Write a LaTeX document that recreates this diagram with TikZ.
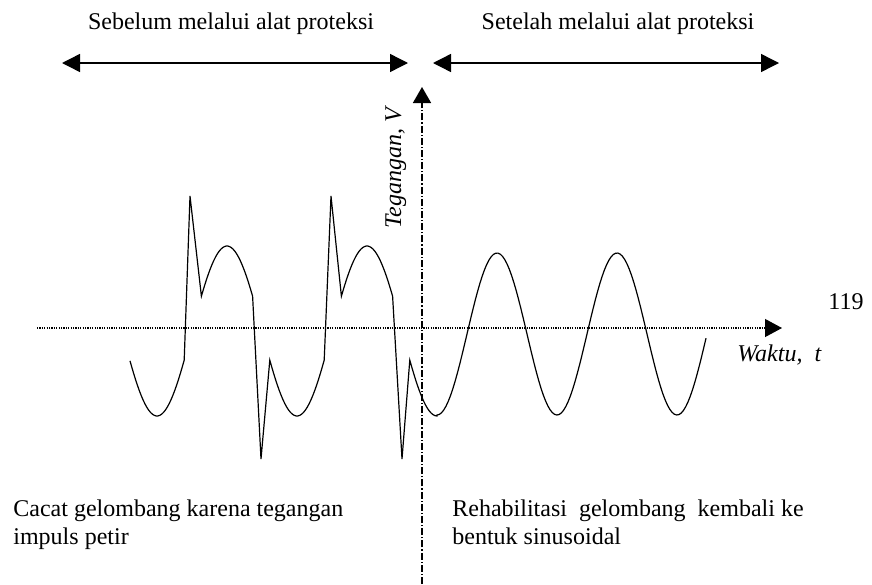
\documentclass[tikz,border=0pt]{standalone}
\usepackage{fontspec}
\setmainfont{Liberation Serif}
\usepackage{tikz}
\usetikzlibrary{arrows.meta,positioning}
\tikzset{
  captiontext/.style={font=\fontsize{12}{13.8}\selectfont,inner sep=0pt},
  axistext/.style={font=\fontsize{12}{13.8}\selectfont\itshape,inner sep=0pt},
  notetext/.style={captiontext,align=left,anchor=base west},
  spanarrow/.style={{Triangle[length=9pt,width=9pt]}-{Triangle[length=9pt,width=9pt]},line width=0.7pt},
  voltaxis/.style={-{Triangle[length=8pt,width=9pt]},line width=0.8pt,dash pattern=on 3.5pt off 1pt on 0.6pt off 1pt},
  timeaxis/.style={-{Triangle[length=8.5pt,width=9pt]},line width=0.6pt,dash pattern=on 0.6pt off 0.6pt},
  waveline/.style={line width=0.6pt,line join=miter}
}

\begin{document}
\begin{tikzpicture}[x=0.5pt,y=-0.5pt]
  \useasboundingbox (0,0) rectangle (872,584);
  % before / after spans
  \coordinate (beforeL) at (62,63);
  \coordinate (beforeR) at (408,63);
  \coordinate (afterL) at (433,63);
  \coordinate (afterR) at (779,63);
  \draw[spanarrow] (beforeL) -- (beforeR);
  \draw[spanarrow] (afterL) -- (afterR);
  \node[captiontext,anchor=base] (before) at (231,29) {Sebelum melalui alat proteksi};
  \node[captiontext,anchor=base] (after) at (618,29) {Setelah melalui alat proteksi};
  % axes
  \coordinate (vbottom) at (422,584);
  \coordinate (vtop) at (422,87);
  \coordinate (hleft) at (37,328);
  \coordinate (hright) at (782,328);
  \draw[timeaxis] (hleft) -- (hright);
  \draw[voltaxis] (vbottom) -- (vtop);
  \node[axistext,rotate=90,anchor=base] (volt) at (401,168) {Tegangan, V};
  \node[axistext,anchor=base west] (time) at (737,361) {Waktu, \ t};
  \node[captiontext,anchor=base west] (page) at (828,309) {119};
  % distorted wave, then clean sine
  \draw[waveline]
    plot[domain=130:184.2,samples=30] (\x,{331+85*cos(2.5714*(\x-157))})
    -- (190,196)
    -- plot[domain=201.4:252.6,samples=30] (\x,{331+85*cos(2.5714*(\x-157))})
    -- (261,459)
    -- plot[domain=269.8:324.2,samples=30] (\x,{331+85*cos(2.5714*(\x-157))})
    -- (331,196)
    -- plot[domain=341.4:392.6,samples=30] (\x,{331+85*cos(2.5714*(\x-157))})
    -- (402,459)
    -- plot[domain=409.8:437,samples=15] (\x,{331+85*cos(2.5714*(\x-157))})
    -- plot[domain=437:706,samples=120] (\x,{334+81*cos(3*(\x-437))});
  % notes (base = last line)
  \node[notetext] (distort) at (13,544) {Cacat gelombang karena tegangan\\impuls petir};
  \node[notetext] (restore) at (452,544) {Rehabilitasi \ gelombang \ kembali ke\\bentuk sinusoidal};
\end{tikzpicture}
\end{document}
